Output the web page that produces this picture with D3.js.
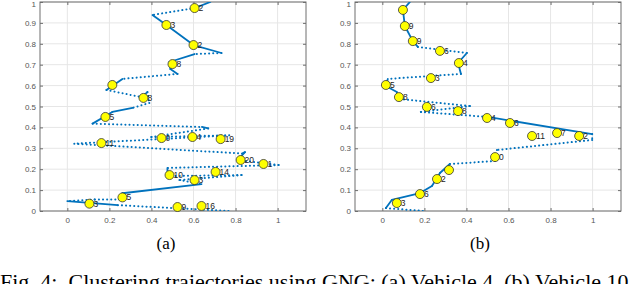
<!DOCTYPE html>
<meta charset="utf-8">
<script src="https://d3js.org/d3.v7.min.js"></script>
<style>
  body { margin: 0; background: #fff; }
</style>
<div id="my_dataviz"></div>
<script>
// ticks
const xTicks = [0, 0.2, 0.4, 0.6, 0.8, 1];
const xTickLabels = ["0", "0.2", "0.4", "0.6", "0.8", "1"];
const yTicks = [0, 0.1, 0.2, 0.3, 0.4, 0.5, 0.6, 0.7, 0.8, 0.9, 1];
const yTickLabels = ["0", "0.1", "0.2", "0.3", "0.4", "0.5", "0.6", "0.7", "0.8", "0.9", "1"];

// (a) trajectory, in order
const trajA = [
  [0.68, 1.0], [0.605, 0.971], [0.405, 0.938], [0.471, 0.890], [0.600, 0.794],
  [0.733, 0.756], [0.605, 0.751], [0.486, 0.713], [0.490, 0.679], [0.524, 0.656],
  [0.262, 0.632], [0.186, 0.579], [0.352, 0.545], [0.381, 0.569], [0.390, 0.517],
  [0.310, 0.493], [0.214, 0.474], [0.120, 0.418], [0.640, 0.402], [0.670, 0.395],
  [0.400, 0.354], [0.770, 0.362], [0.033, 0.322], [0.830, 0.275], [0.845, 0.282],
  [0.810, 0.244], [1.005, 0.220], [0.476, 0.206], [0.476, 0.167], [0.829, 0.172],
  [0.533, 0.148], [0.638, 0.129], [0.262, 0.085], [0.248, 0.055], [0.130, 0.055],
  [0.0, 0.047], [0.240, 0.028], [0.771, 0.0]
];
// steps of the trajectory that are jumps (sparse samples)
const jumpsA = [1, 5, 9, 11, 13, 14, 17, 19, 20, 21, 22, 25, 26, 28, 29, 30, 32, 33, 34, 36];
// (a) GNG nodes
const nodesA = [
  [0.605, 0.971], [0.471, 0.890], [0.600, 0.794], [0.500, 0.703], [0.214, 0.603],
  [0.362, 0.541], [0.181, 0.450], [0.448, 0.349], [0.595, 0.354], [0.729, 0.344],
  [0.162, 0.325], [0.824, 0.244], [0.933, 0.225], [0.486, 0.172], [0.705, 0.187],
  [0.605, 0.148], [0.524, 0.019], [0.638, 0.024], [0.105, 0.035], [0.262, 0.065]
];
const labelsA = ["2", "3", "2", "8", "", "8", "5", "0", "4", "19",
                 "11", "20", "1", "10", "14", "3", "9", "16", "3", "5"];

// (b) trajectory
const trajB = [
  [0.131, 1.0], [0.098, 0.962], [0.107, 0.885], [0.145, 0.813], [0.169, 0.785],
  [0.402, 0.756], [0.360, 0.708], [0.374, 0.656], [0.026, 0.632], [0.017, 0.598],
  [0.069, 0.569], [0.083, 0.536], [0.417, 0.502], [0.183, 0.474], [0.502, 0.450],
  [0.998, 0.368], [0.998, 0.340], [0.545, 0.292], [0.536, 0.239], [0.321, 0.225],
  [0.274, 0.182], [0.236, 0.120], [0.179, 0.086], [0.045, 0.053], [0.017, 0.014],
  [0.198, 0.0]
];
const jumpsB = [4, 7, 11, 12, 13, 15, 16, 17, 18, 24];
const nodesB = [
  [0.098, 0.962], [0.107, 0.885], [0.145, 0.813], [0.274, 0.766], [0.364, 0.708],
  [0.231, 0.636], [0.017, 0.603], [0.079, 0.545], [0.212, 0.498], [0.360, 0.478],
  [0.498, 0.445], [0.607, 0.421], [0.712, 0.359], [0.831, 0.373], [0.936, 0.359],
  [0.536, 0.258], [0.317, 0.196], [0.260, 0.153], [0.179, 0.081], [0.069, 0.038]
];
const labelsB = ["", "9", "9", "6", "4", "3", "5", "8", "6", "8",
                 "4", "6", "11", "7", "2", "0", "", "2", "6", "3"];

const caption = "Fig. 4:  Clustering trajectories using GNG: (a) Vehicle 4, (b) Vehicle 10";

// dimensions
const margin = {top: 2},
      width_sc = 266,
      height_sc = 209;

const svg = d3.select("#my_dataviz")
  .append("svg")
  .attr("width", 640)
  .attr("height", 284)
  .style("font-family", "'Liberation Sans', Arial, sans-serif");

const x = d3.scaleLinear().domain([-0.13, 1.135]).range([0, width_sc]);
const y = d3.scaleLinear().domain([0, 1]).range([height_sc, 0]);

function drawPanel(left, id, traj, jumps, nodes, labels, tag, tagX) {
  const g = svg.append("g")
    .attr("transform", `translate(${left}, ${margin.top})`);

  g.append("clipPath").attr("id", "clip" + id)
    .append("rect").attr("width", width_sc).attr("height", height_sc);

  // grid
  g.append("g").selectAll("line")
    .data(xTicks).join("line")
      .attr("x1", d => x(d)).attr("x2", d => x(d))
      .attr("y1", 0).attr("y2", height_sc)
      .attr("stroke", "#e6e6e6");
  g.append("g").selectAll("line")
    .data(yTicks).join("line")
      .attr("x1", 0).attr("x2", width_sc)
      .attr("y1", d => y(d)).attr("y2", d => y(d))
      .attr("stroke", "#e6e6e6");

  // axes, ticks pointing inward
  const xb = g.append("g")
    .attr("transform", `translate(0, ${height_sc})`)
    .call(d3.axisBottom(x).tickValues(xTicks).tickSizeInner(-3).tickSizeOuter(0)
      .tickPadding(6).tickFormat((d, i) => xTickLabels[i]));
  const yl = g.append("g")
    .call(d3.axisLeft(y).tickValues(yTicks).tickSizeInner(-3).tickSizeOuter(0)
      .tickPadding(4).tickFormat((d, i) => yTickLabels[i]));
  const xt = g.append("g")
    .call(d3.axisTop(x).tickValues(xTicks).tickSizeInner(-3).tickSizeOuter(0).tickFormat(""));
  const yr = g.append("g")
    .attr("transform", `translate(${width_sc}, 0)`)
    .call(d3.axisRight(y).tickValues(yTicks).tickSizeInner(-3).tickSizeOuter(0).tickFormat(""));

  [xb, yl, xt, yr].forEach(a => {
    a.select(".domain").remove();
    a.selectAll("line").attr("stroke", "#6e6e6e");
    a.selectAll("text").attr("fill", "#555").style("font-size", "8px")
      .style("font-family", "'Liberation Sans', Arial, sans-serif");
  });
  // keep the top "1" label inside the picture
  yl.selectAll(".tick text").filter(d => d === 1).attr("dy", "0.6em");

  g.append("rect")
    .attr("width", width_sc).attr("height", height_sc)
    .attr("fill", "none").attr("stroke", "#6e6e6e").attr("stroke-width", 1);

  // trajectory segments
  const segs = d3.range(traj.length - 1).map(i => ({a: traj[i], b: traj[i + 1], jump: jumps.includes(i)}));
  g.append("g")
    .attr("clip-path", `url(#clip${id})`)
    .selectAll("line")
    .data(segs).join("line")
      .attr("x1", d => x(d.a[0])).attr("y1", d => y(d.a[1]))
      .attr("x2", d => x(d.b[0])).attr("y2", d => y(d.b[1]))
      .attr("stroke", "#0072BD")
      .attr("stroke-linecap", "round")
      .attr("stroke-width", d => d.jump ? 2 : 1.8)
      .attr("stroke-dasharray", d => d.jump ? "0.1,4" : null);

  // node labels, then nodes on top
  g.append("g").selectAll("text")
    .data(nodes).join("text")
      .attr("x", d => x(d[0]) + 4)
      .attr("y", d => y(d[1]))
      .attr("dy", "0.36em")
      .style("font-size", "8.5px")
      .attr("fill", "#222")
      .text((d, i) => labels[i]);

  g.append("g").selectAll("circle")
    .data(nodes).join("circle")
      .attr("cx", d => x(d[0]))
      .attr("cy", d => y(d[1]))
      .attr("r", 4.5)
      .attr("fill", "#ffff00")
      .attr("stroke", "#333")
      .attr("stroke-width", 0.8);

  // sub caption
  svg.append("text")
    .attr("x", tagX).attr("y", 249)
    .attr("text-anchor", "middle")
    .style("font-family", "'Liberation Serif', 'Times New Roman', serif")
    .style("font-size", "17px")
    .text(tag);
}

drawPanel(40, "a", trajA, jumpsA, nodesA, labelsA, "(a)", 166);
drawPanel(355, "b", trajB, jumpsB, nodesB, labelsB, "(b)", 480);

svg.append("text")
  .attr("x", 0).attr("y", 289)
  .style("font-family", "'Liberation Serif', 'Times New Roman', serif")
  .style("font-size", "22px")
  .style("white-space", "pre")
  .text(caption);
</script>
